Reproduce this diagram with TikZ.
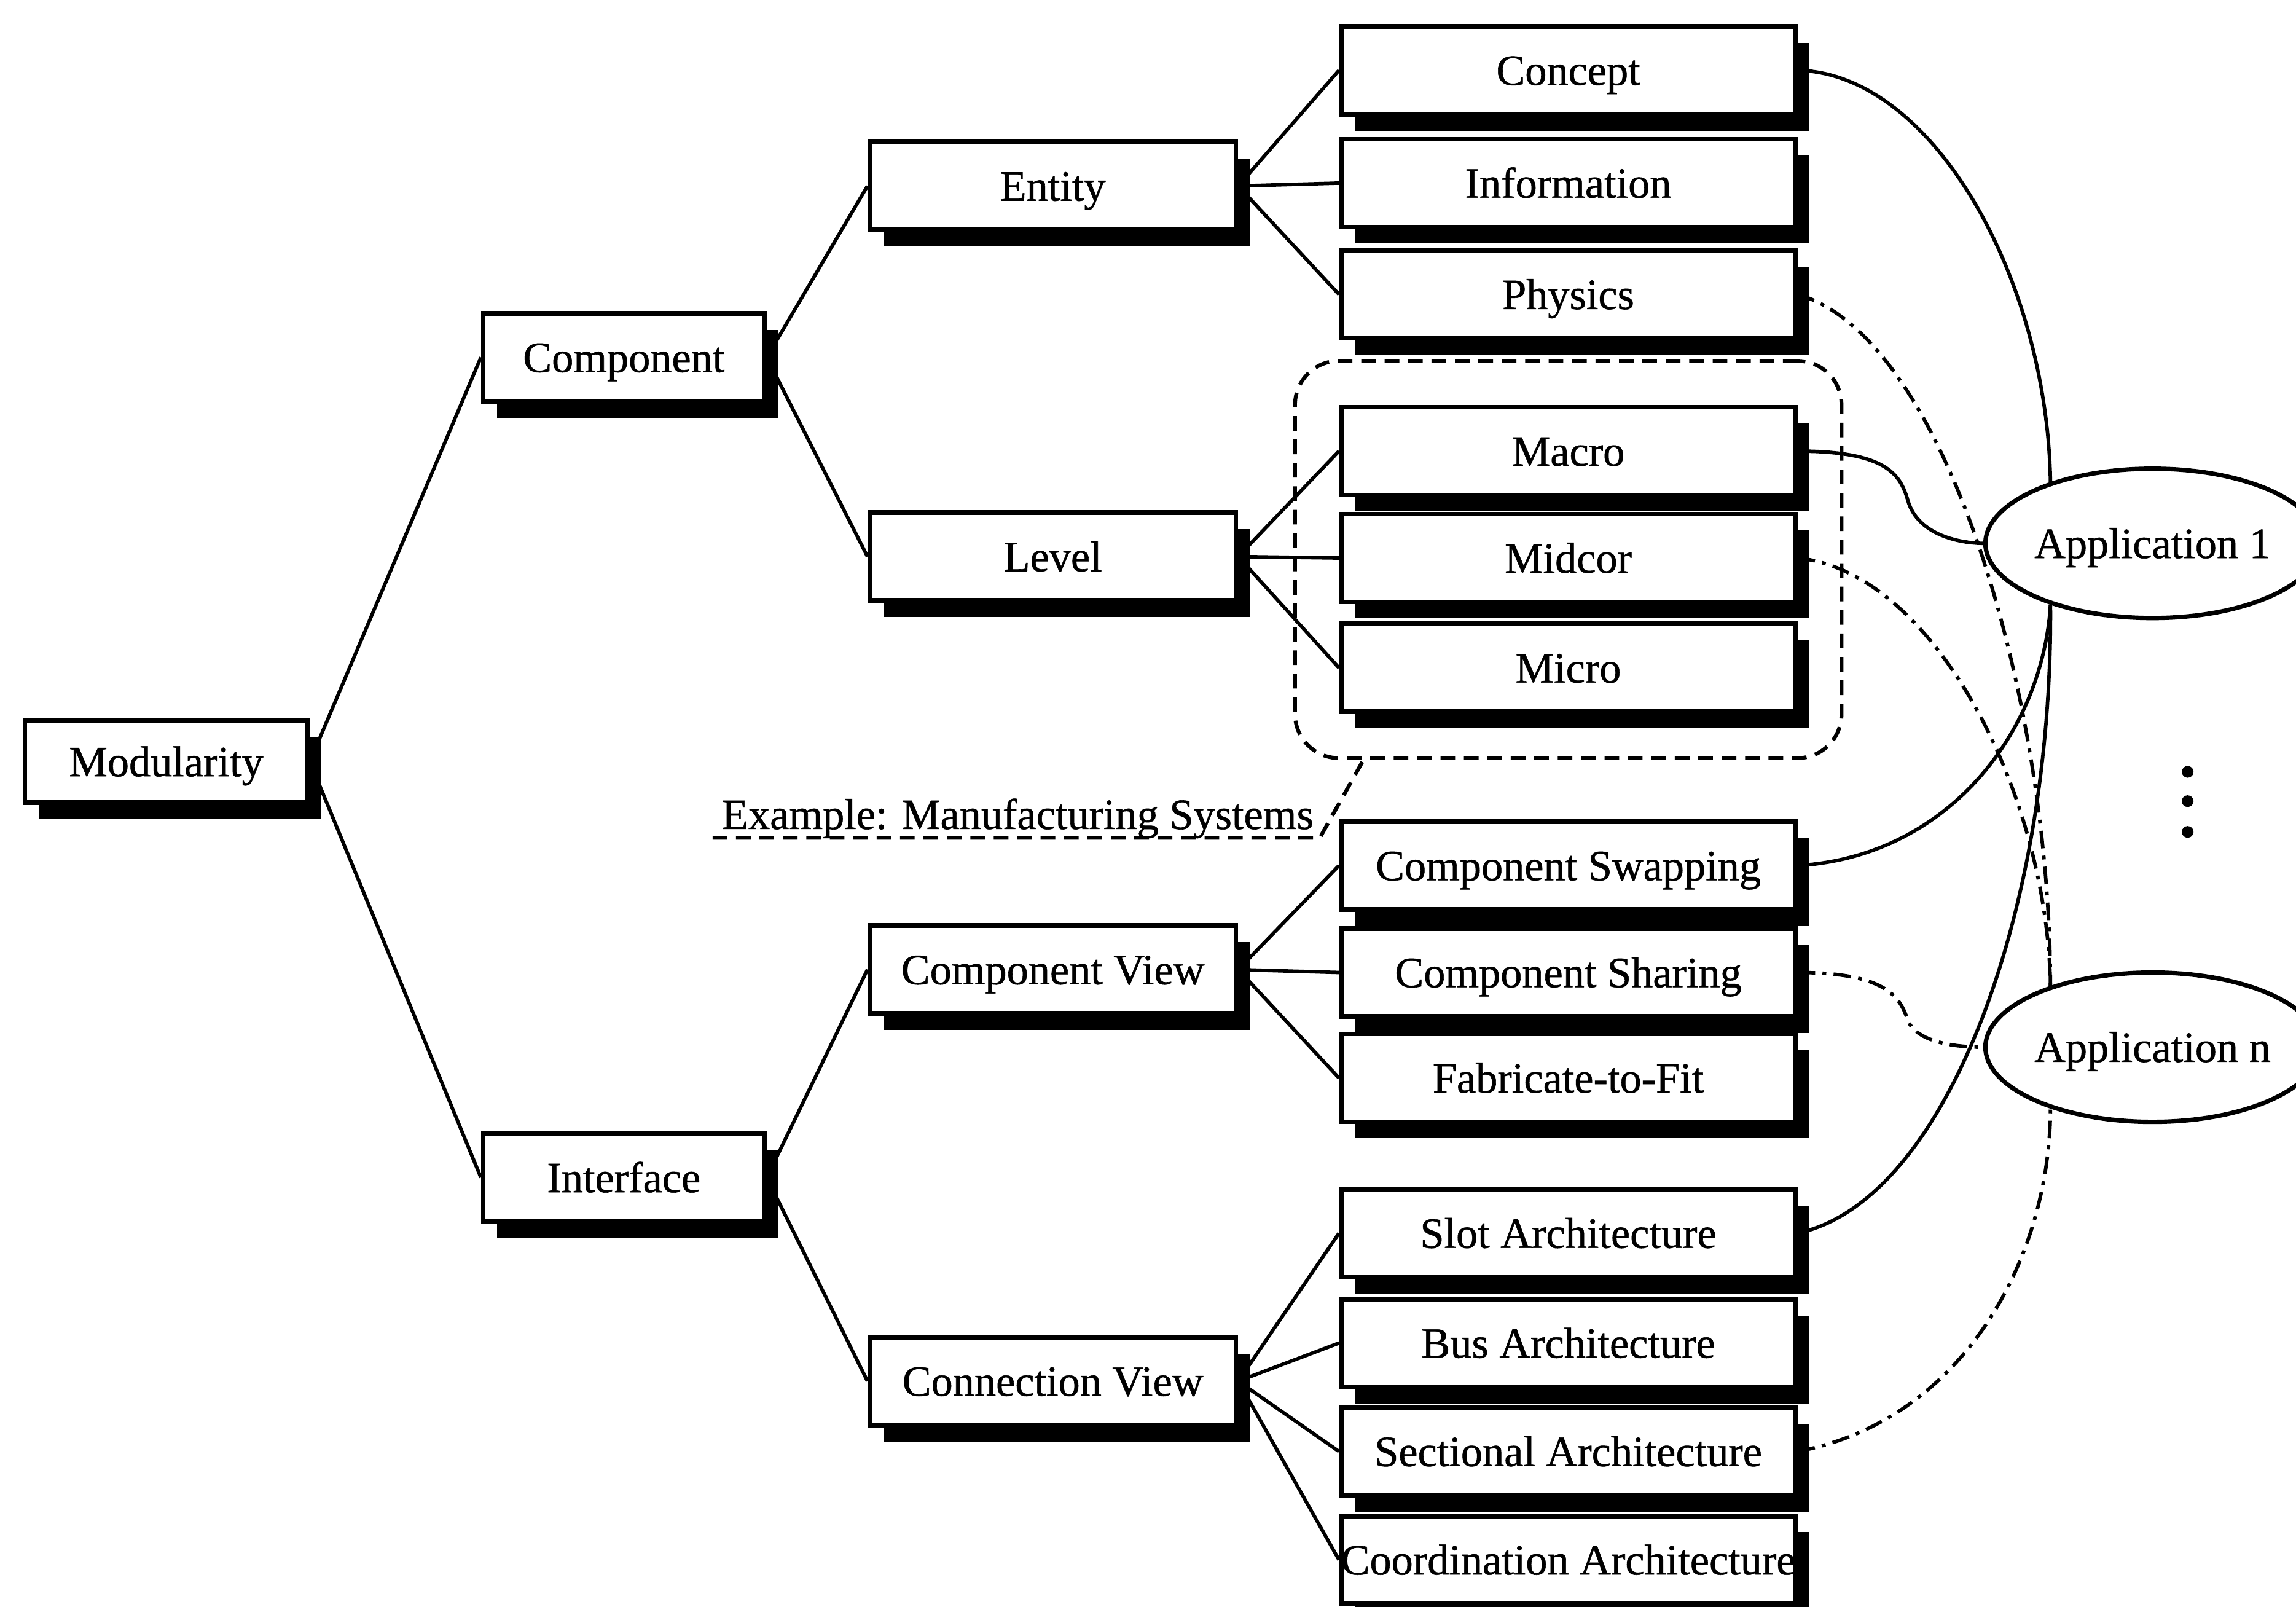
\documentclass[tikz,border=0pt]{standalone}
\usepackage{fontspec}
\setmainfont{Liberation Serif}[FakeBold=0.8]
\usetikzlibrary{shapes.geometric,shadows,fit,calc}

\begin{document}
\begin{tikzpicture}[x=0.5pt,y=-0.5pt,
  lbl/.style={font=\fontsize{14.75}{17}\selectfont},
  box/.style={lbl, draw, line width=1.6pt, fill=white, inner sep=0pt,
    minimum height=30pt, text height=10pt, text depth=0pt,
    drop shadow={shadow xshift=4.8pt, shadow yshift=-5.6pt, fill=black, opacity=1}},
  lvzero/.style={box, minimum width=96.5pt, minimum height=28pt},
  lvone/.style={box, minimum width=96pt},
  lvtwo/.style={box, minimum width=125pt},
  lvthree/.style={box, minimum width=155pt},
  app/.style={lbl, draw, ellipse, line width=1.5pt, fill=white, inner sep=0pt,
    minimum width=102pt, minimum height=51pt, text height=10pt, text depth=0pt},
  conn/.style={line width=1.2pt},
  dashdot/.style={line width=1.2pt, dash pattern=on 6pt off 2.5pt on 1.3pt off 2.5pt},
  grpline/.style={line width=1.3pt, dash pattern=on 5pt off 3pt},
]
\clip (0,0) rectangle (1568,1097);
\fill[white] (0,0) rectangle (1568,1097);

% tree levels
\node[lvzero] (mod) at (113.5,520) {Modularity};
\node[lvone] (comp) at (426,244) {Component};
\node[lvone] (intf) at (426,804) {Interface};
\node[lvtwo] (ent) at (719,127) {Entity};
\node[lvtwo] (lev) at (719,380) {Level};
\node[lvtwo] (cview) at (719,662) {Component View};
\node[lvtwo] (xview) at (719,943) {Connection View};

% leaves
\node[lvthree] (concept) at (1071,48) {Concept};
\node[lvthree] (info) at (1071,125) {Information};
\node[lvthree] (phys) at (1071,201) {Physics};
\node[lvthree] (macro) at (1071,308) {Macro};
\node[lvthree] (midcor) at (1071,381) {Midcor};
\node[lvthree] (micro) at (1071,456) {Micro};
\node[lvthree] (swap) at (1071,591) {Component Swapping};
\node[lvthree] (share) at (1071,664) {Component Sharing};
\node[lvthree] (fab) at (1071,736) {Fabricate-to-Fit};
\node[lvthree] (slot) at (1071,842) {Slot Architecture};
\node[lvthree] (bus) at (1071,917) {Bus Architecture};
\node[lvthree] (sect) at (1071,991) {Sectional Architecture};
\node[lvthree] (coord) at (1071,1065) {\makebox[155pt][c]{Coordination Architecture}};

% applications
\node[app] (appone) at (1470,371) {Application 1};
\node[app] (appn) at (1470,715) {Application n};
\fill (1494,527) circle (2pt);
\fill (1494,547) circle (2pt);
\fill (1494,568) circle (2pt);

% hierarchy connectors
\foreach \a/\b in {mod/comp, mod/intf, comp/ent, comp/lev, intf/cview, intf/xview,
  ent/concept, ent/info, ent/phys, lev/macro, lev/midcor, lev/micro,
  cview/swap, cview/share, cview/fab, xview/slot, xview/bus, xview/sect, xview/coord}
  \draw[conn] (\a.east) -- (\b.west);

% manufacturing-systems group
\node[grpline, draw, rounded corners=15pt, inner sep=15pt, fit=(macro)(micro)] (grp) {};
\node[lbl, anchor=base, inner sep=0pt] (ex) at (695,566) {Example: Manufacturing Systems};
\draw[grpline] ([shift={(-3pt,-3pt)}]ex.base west) -- ([shift={(2pt,-3pt)}]ex.base east)
  -- ($(grp.south west)+(48,0)$);

% links to Application 1
\draw[conn] (concept.east) .. controls (1320,50) and (1398,190) .. (appone.149);
\draw[conn] (macro.east) .. controls (1290,308) and (1298,325) .. (1303,342)
  .. controls (1310,366) and (1340,371) .. (appone.west);
\draw[conn] (swap.east) .. controls (1330,585) and (1395,500) .. (appone.211);
\draw[conn] (slot.east) .. controls (1330,820) and (1402,620) .. (appone.211);

% links to Application n
\draw[dashdot] (phys.east) .. controls (1330,230) and (1400,480) .. (appn.149);
\draw[dashdot] (midcor.east) .. controls (1320,390) and (1398,540) .. (appn.149);
\draw[dashdot] (share.east) .. controls (1290,664) and (1298,682) .. (1303,697)
  .. controls (1310,713) and (1340,715) .. (appn.west);
\draw[dashdot] (sect.east) .. controls (1340,970) and (1400,860) .. (appn.211);
\end{tikzpicture}
\end{document}
